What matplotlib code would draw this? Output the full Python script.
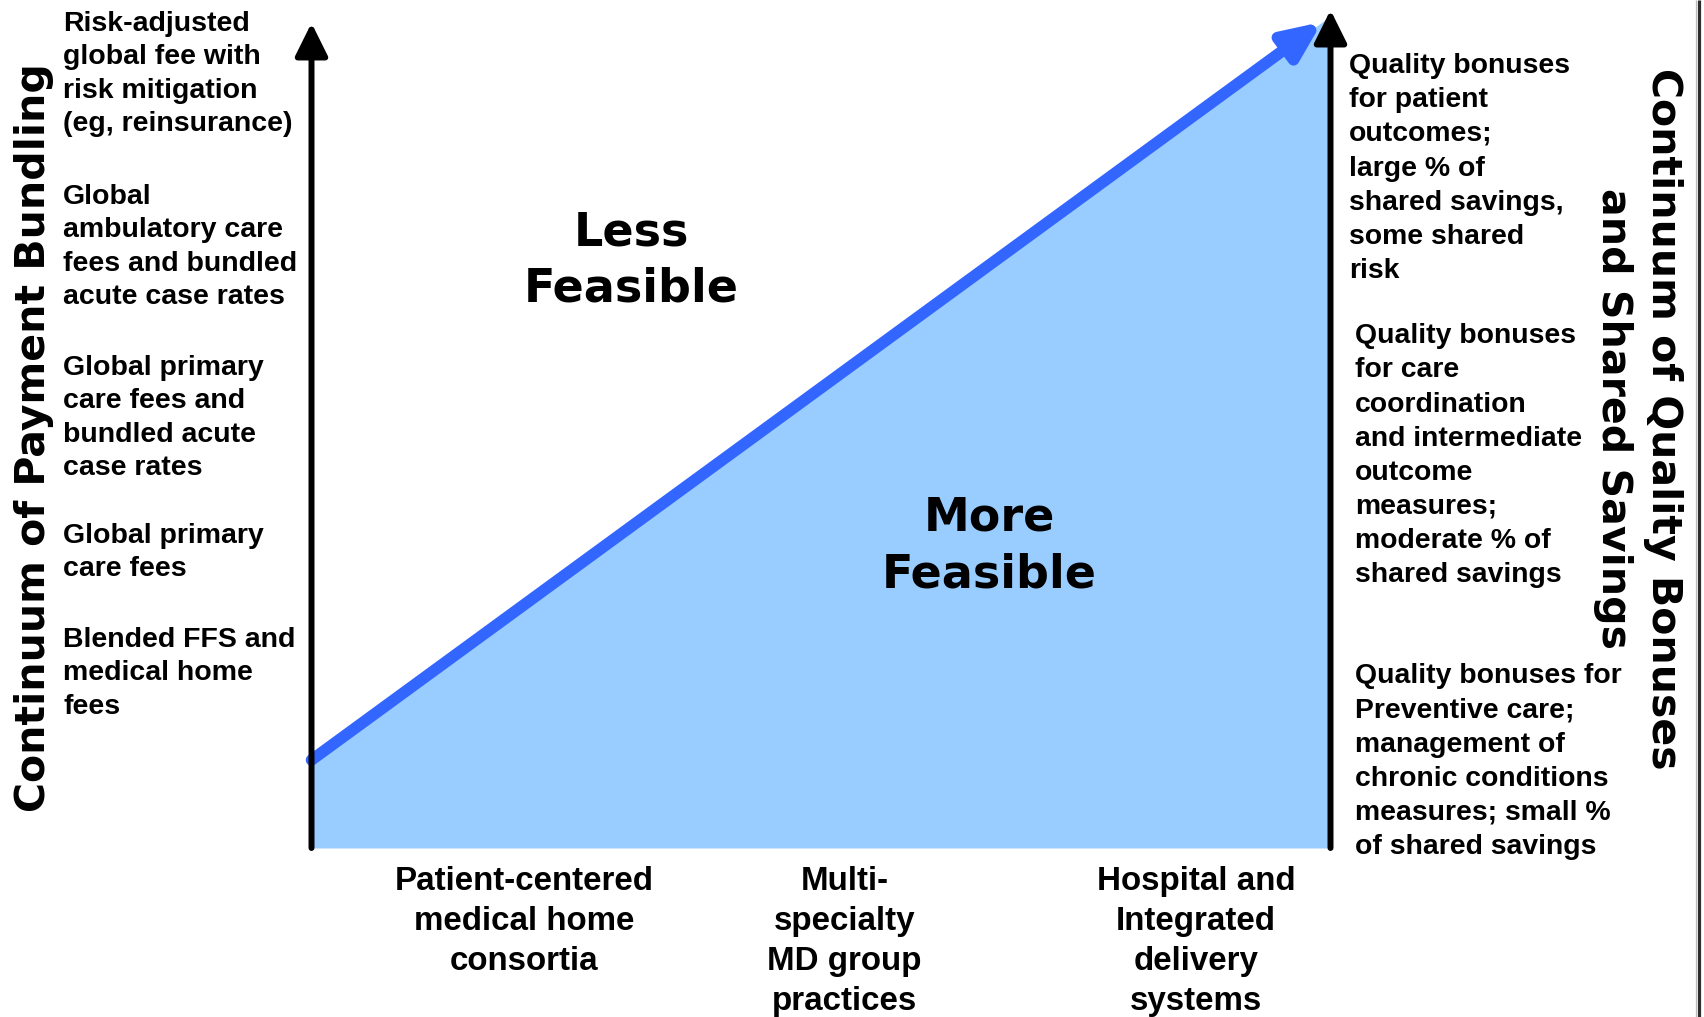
import matplotlib
matplotlib.use("Agg")
import matplotlib.pyplot as plt

W, H, DPI = 1704, 1017, 100

# ---------------- data ----------------
bundling_levels = [
    ["Risk-adjusted", "global fee with", "risk mitigation", "(eg, reinsurance)"],
    ["Global", "ambulatory care", "fees and bundled", "acute case rates"],
    ["Global primary", "care fees and", "bundled acute", "case rates"],
    ["Global primary", "care fees"],
    ["Blended FFS and", "medical home", "fees"],
]
quality_levels = [
    ["Quality bonuses", "for patient", "outcomes;", "large % of",
     "shared savings,", "some shared", "risk"],
    ["Quality bonuses", "for care", "coordination", "and intermediate",
     "outcome", "measures;", "moderate % of", "shared savings"],
    ["Quality bonuses for", "Preventive care;", "management of",
     "chronic conditions", "measures; small %", "of shared savings"],
]
organization_types = [
    ["Patient-centered", "medical home", "consortia"],
    ["Multi-", "specialty", "MD group", "practices"],
    ["Hospital and", "Integrated", "delivery", "systems"],
]
region_labels = [["Less", "Feasible"], ["More", "Feasible"]]
left_title = "Continuum of Payment Bundling"
right_title = ["Continuum of Quality Bonuses", "and Shared Savings"]

# feasibility frontier (axes units 0..1)
feasibility_x = [0.0, 0.9917]
feasibility_y = [0.105, 0.9857]
fill_x = [0.0, 1.0]
fill_y = [0.105, 0.993]
bundling_axis_top = 0.9845
quality_axis_top = 1.0

# ---------------- layout (pixels) ----------------
fig = plt.figure(figsize=(W / DPI, H / DPI), dpi=DPI)
fig.patch.set_facecolor("white")

ax_left, ax_right, ax_bottom, ax_top = 311.5, 1330.5, 848.0, 10.0
ax = fig.add_axes([ax_left / W, (H - ax_bottom) / H,
                   (ax_right - ax_left) / W, (ax_bottom - ax_top) / H])
ax.set_xlim(0, 1)
ax.set_ylim(0, 1)
ax.axis("off")

BLUE_FILL = "#99CCFF"
BLUE_LINE = "#3366FF"

ax.fill_between(fill_x, 0, fill_y, color=BLUE_FILL, lw=0, zorder=1)

ax.annotate("", xy=(feasibility_x[1], feasibility_y[1]),
            xytext=(feasibility_x[0], feasibility_y[0]),
            arrowprops=dict(arrowstyle="-|>,head_length=1.4,head_width=0.62",
                            mutation_scale=16, lw=8.3, color=BLUE_LINE,
                            shrinkA=0, shrinkB=0),
            annotation_clip=False, zorder=2)

for xpos, top in [(0.0, bundling_axis_top), (1.0, quality_axis_top)]:
    ax.annotate("", xy=(xpos, top), xytext=(xpos, 0.0),
                arrowprops=dict(arrowstyle="-|>,head_length=1.25,head_width=0.62",
                                mutation_scale=16, lw=4.3, color="black",
                                shrinkA=0, shrinkB=0),
                annotation_clip=False, zorder=3)

# overlay in pixel coordinates for text
ov = fig.add_axes([0, 0, 1, 1])
ov.set_xlim(0, W)
ov.set_ylim(H, 0)
ov.axis("off")

LAB = dict(family=["Liberation Sans", "DejaVu Sans"], weight="bold", color="black")
HEAD = dict(family=["DejaVu Sans"], weight="bold", color="black")


def draw_lines(lines, x, y0, dy, ha="left", size=20, props=LAB):
    for i, line in enumerate(lines):
        ov.text(x, y0 + i * dy, line, ha=ha, va="baseline", fontsize=size, **props)


# left side labels
left_baselines = [31.0, 204.0, 375.0, 543.0, 646.7]
for lines, yb in zip(bundling_levels, left_baselines):
    draw_lines(lines, 63.3, yb, 33.4, size=20.5)

# right side labels
right_pos = [(1349.3, 73.3), (1355.0, 343.3), (1355.0, 683.3)]
for lines, (xr, yb) in zip(quality_levels, right_pos):
    draw_lines(lines, xr, yb, 34.1, size=20.4)

# bottom category labels
bottom_x = [524.0, 844.6, 1196.0]
for lines, xc in zip(organization_types, bottom_x):
    draw_lines(lines, xc, 890.0, 40.0, ha="center", size=23.9)

# region labels
region_pos = [(631.5, 245.0), (989.0, 530.5)]
for lines, (xc, yb) in zip(region_labels, region_pos):
    draw_lines(lines, xc, yb, 57.0, ha="center", size=33.1, props=HEAD)

# titles
ov.text(45.0, 437.5, left_title, rotation=90, rotation_mode="anchor",
        ha="center", va="baseline", fontsize=29.5, **HEAD)
for line, xb in zip(right_title, [1652.0, 1602.0]):
    ov.text(xb, 419.0, line, rotation=-90, rotation_mode="anchor",
            ha="center", va="baseline", fontsize=29.5, **HEAD)

# right frame edge
ov.plot([1695.8, 1695.8], [0, H], color="#bbbbbb", lw=0.9, solid_capstyle="butt")
ov.plot([1698.6, 1698.6], [0, H], color="#2e2e2e", lw=2.3, solid_capstyle="butt")

fig.savefig("out.png", dpi=DPI, facecolor="white")
